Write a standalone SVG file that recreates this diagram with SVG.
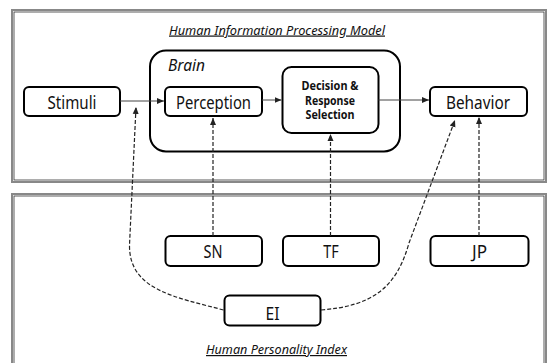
<svg xmlns="http://www.w3.org/2000/svg" width="548" height="363" viewBox="0 0 548 363">
<defs>
<marker id="ah" markerWidth="8" markerHeight="8" refX="7" refY="4" orient="auto" markerUnits="userSpaceOnUse">
<path d="M0,1 L7,4 L0,7 Z" fill="#222"/>
</marker>
<style>
.panel{fill:#fff;stroke:#888;stroke-width:2}
.panel2{fill:none;stroke:#333;stroke-width:0.8}
.box{fill:#fff;stroke:#000;stroke-width:2}
.t{font-family:"Noto Sans","Open Sans",sans-serif;font-size:18.5px;fill:#111;text-anchor:middle}
.d{font-family:"Noto Sans","Open Sans",sans-serif;font-size:11.5px;font-weight:bold;fill:#111;text-anchor:middle}
.it{font-family:"Noto Sans","Open Sans",sans-serif;font-style:italic;fill:#111}
.sol{fill:none;stroke:#444;stroke-width:1}
.dash{fill:none;stroke:#222;stroke-width:1.2;stroke-dasharray:4,2}
</style>
</defs>
<rect width="548" height="363" fill="#fff"/>
<g id="panel-top">
<rect class="panel" x="12" y="10" width="534" height="172"/>
<rect class="panel2" x="14" y="12" width="530" height="168"/>
<text class="it" x="277" y="34.5" font-size="12" text-anchor="middle" text-decoration="underline" textLength="216" lengthAdjust="spacingAndGlyphs">Human Information Processing Model</text>
</g>
<g id="panel-bottom">
<rect class="panel" x="12" y="194" width="534" height="175"/>
<rect class="panel2" x="14" y="196" width="530" height="171"/>
<text class="it" x="276.5" y="354" font-size="12" text-anchor="middle" text-decoration="underline" textLength="141" lengthAdjust="spacingAndGlyphs">Human Personality Index</text>
</g>
<g id="brain">
<rect class="box" x="150" y="50.5" width="250" height="101" rx="16"/>
<text class="it" x="168" y="71" font-size="16.5" textLength="37" lengthAdjust="spacingAndGlyphs">Brain</text>
</g>
<g id="stimuli">
<rect class="box" x="24" y="87" width="96" height="29" rx="5"/>
<text class="t" x="72" y="108.5" textLength="49" lengthAdjust="spacingAndGlyphs">Stimuli</text>
</g>
<g id="perception">
<rect class="box" x="165" y="87" width="97" height="29" rx="5"/>
<text class="t" x="213.5" y="108.5" textLength="75" lengthAdjust="spacingAndGlyphs">Perception</text>
</g>
<g id="decision">
<rect class="box" x="282.5" y="67" width="96" height="66" rx="9"/>
<text class="d" x="330" y="90" textLength="57" lengthAdjust="spacingAndGlyphs">Decision &amp;</text>
<text class="d" x="330" y="104.5" textLength="50" lengthAdjust="spacingAndGlyphs">Response</text>
<text class="d" x="330" y="119" textLength="49" lengthAdjust="spacingAndGlyphs">Selection</text>
</g>
<g id="behavior">
<rect class="box" x="430" y="87" width="97" height="29" rx="5"/>
<text class="t" x="478" y="108.5" textLength="64" lengthAdjust="spacingAndGlyphs">Behavior</text>
</g>
<g id="sn">
<rect class="box" x="165.5" y="236" width="96.5" height="30" rx="5"/>
<text class="t" x="213" y="258" textLength="19" lengthAdjust="spacingAndGlyphs">SN</text>
</g>
<g id="tf">
<rect class="box" x="283" y="236" width="96" height="30" rx="5"/>
<text class="t" x="331" y="258" textLength="15.5" lengthAdjust="spacingAndGlyphs">TF</text>
</g>
<g id="jp">
<rect class="box" x="430.5" y="236" width="98" height="30" rx="5"/>
<text class="t" x="479.5" y="258" textLength="15" lengthAdjust="spacingAndGlyphs">JP</text>
</g>
<g id="ei">
<rect class="box" x="224.5" y="295.5" width="96" height="30" rx="5"/>
<text class="t" x="272.5" y="320" textLength="14" lengthAdjust="spacingAndGlyphs">EI</text>
</g>
<g id="connectors">
<line class="sol" x1="120" y1="101" x2="164" y2="101" marker-end="url(#ah)"/>
<line class="sol" x1="262" y1="100" x2="281.5" y2="100" marker-end="url(#ah)"/>
<line class="sol" x1="378.5" y1="100" x2="429" y2="100" marker-end="url(#ah)"/>
<line class="dash" x1="213" y1="236" x2="213" y2="118" marker-end="url(#ah)"/>
<line class="dash" x1="330.5" y1="236" x2="330.5" y2="134" marker-end="url(#ah)"/>
<line class="dash" x1="479" y1="236" x2="479" y2="117" marker-end="url(#ah)"/>
<path class="dash" d="M223.5,310 C175,297 129,290 129.5,245 L136,107" marker-end="url(#ah)"/>
<path class="dash" d="M321,310 C370,306 396,290 409,243 L455,120" marker-end="url(#ah)"/>
</g>
</svg>
